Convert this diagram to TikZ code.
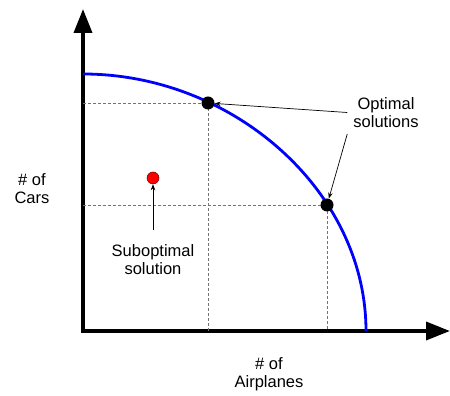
\documentclass[tikz,border=0pt]{standalone}
\usepackage{fontspec}
\setmainfont{Liberation Sans}
\usepackage{xcolor}
\usepackage{tikz}
\usetikzlibrary{arrows.meta, positioning, calc}
\tikzset{
  axis/.style={-{Triangle[length=24pt, width=18pt]}, line width=3.5pt},
  frontier/.style={blue, line width=2.8pt},
  guide/.style={densely dashed, dash pattern=on 3pt off 2pt, black!55, line width=0.9pt},
  optdot/.style={circle, fill=black, inner sep=0pt, minimum size=13pt},
  subdot/.style={circle, fill=red, draw=black!60!red, line width=0.5pt, inner sep=0pt, minimum size=12pt},
  label/.style={align=center, inner sep=0pt},
  pointer/.style={-{Stealth[length=6pt, width=4.5pt]}, line width=0.7pt}
}

\begin{document}
\begin{tikzpicture}[x=1pt, y=1pt, font=\fontsize{16.5}{18.5}\selectfont]
        \useasboundingbox (-83,-65) rectangle (367,331);

        % Axes
        \coordinate (origin) at (0,0);
        \coordinate (xend)   at (367,0);
        \coordinate (ytop)   at (0,322);
        \draw[axis] ($(origin)+(-1.75,0)$) -- (xend);
        \draw[axis] ($(origin)+(0,-1.75)$) -- (ytop);

        % Points on the frontier
        \coordinate (p1) at (125,228);
        \coordinate (p2) at (244,126);

        % Guide lines
        \draw[guide] (origin |- p1) -| (origin -| p1);
        \draw[guide] (origin |- p2) -| (origin -| p2);

        % Frontier
        \draw[frontier] (0,257) .. controls (150,257) and (283,140) .. (283,0);

        % Dots
        \node[optdot] (opt1) at (p1) {};
        \node[optdot] (opt2) at (p2) {};
        \node[subdot] (sub)  at (70,153) {};

        % Labels
        \node[label, anchor=north, inner sep=6pt] (optlbl) at (303,240) {Optimal\\solutions};
        \node[label, anchor=north, inner ysep=14pt] (sublbl) at (70,101) {Suboptimal\\solution};
        \node[label, anchor=north] (cars)   at (-51,158) {\# of\\Cars};
        \node[label, anchor=north] (planes) at (186,-26) {\# of\\Airplanes};

        % Pointers
        \draw[pointer] (optlbl.west) -- (opt1);
        \draw[pointer] (optlbl.south west) -- (opt2);
        \draw[pointer] (sublbl) -- (sub);
    \end{tikzpicture}
\end{document}
